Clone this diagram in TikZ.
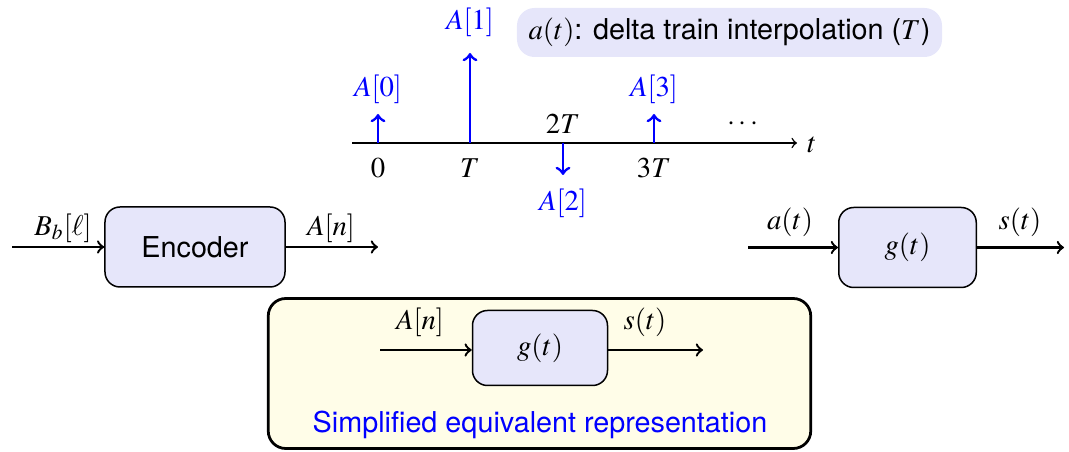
\documentclass[tikz,border=0pt]{standalone}
\usepackage{mathptmx}
\usepackage[no-math]{fontspec}
\setsansfont{TeX Gyre Heros}
\definecolor{lav}{RGB}{230,230,250}
\definecolor{cream}{RGB}{255,253,232}
\begin{document}
\fontsize{11.5}{14}\selectfont
\begin{tikzpicture}[x=0.4pt,y=-0.4pt,
  blk/.style={draw, rounded corners=6pt, fill=lav, minimum height=32pt, line width=0.6pt},
  sig/.style={->, line width=0.95pt},
  delta/.style={->, blue, line width=1.15pt},
  lab/.style={inner sep=1pt},
  blab/.style={inner sep=1pt, text=blue}
]
\useasboundingbox (0,0) rectangle (1069,452);

% ---- delta train ----
\coordinate (ax0) at (352,143);
\coordinate (ax1) at (797,143);
\draw[->, line width=0.6pt] (ax0) -- (ax1);
\node[lab] (tl) at (812,145) {$t$};

\coordinate (p0) at (378,143);
\coordinate (p1) at (470,143);
\coordinate (p2) at (563,143);
\coordinate (p3) at (654,143);
\coordinate (d0) at (378,114);
\coordinate (d1) at (470,53);
\coordinate (d2) at (563,175);
\coordinate (d3) at (654,114);
\draw[delta] (p0) -- (d0);
\draw[delta] (p1) -- (d1);
\draw[delta] (p2) -- (d2);
\draw[delta] (p3) -- (d3);
\node[blab] (l0) at (378,89) {$A[0]$};
\node[blab] (l1) at (470,22) {$A[1]$};
\node[blab] (l2) at (563,203) {$A[2]$};
\node[blab] (l3) at (654,89) {$A[3]$};
\node[lab] (t0) at (378,168) {$0$};
\node[lab] (t1) at (470,168) {$T$};
\node[lab] (t2) at (563,124) {$2T$};
\node[lab] (t3) at (654,168) {$3T$};
\node[lab] (dots) at (743,124) {$\cdots$};

\node[fill=lav, rounded corners=7pt, minimum width=170pt, minimum height=19.6pt, font=\sffamily] (leg) at (729.5,32.5) {$a(t)$: delta train interpolation ($T$)};

% ---- encoder ----
\node[blk, minimum width=72pt, font=\sffamily] (enc) at (195,247) {Encoder};
\coordinate (encin) at (12,247);
\coordinate (encout) at (378,247);
\draw[sig] (encin) -- (enc.west);
\draw[sig] (enc.east) -- (encout);
\node[lab] (bl) at (63,228) {$B_b[\ell]$};
\node[lab] (an) at (331,228) {$A[n]$};

% ---- g(t) right ----
\node[blk, minimum width=55pt] (g) at (907.5,247.5) {$g(t)$};
\coordinate (gin) at (748,247.5);
\coordinate (gout) at (1064,247.5);
\draw[sig] (gin) -- (g.west);
\draw[sig] (g.east) -- (gout);
\node[lab] (at) at (790,222) {$a(t)$};
\node[lab] (st) at (1020,222) {$s(t)$};

% ---- simplified ----
\node[draw, line width=1.1pt, rounded corners=7pt, fill=cream, minimum width=217pt, minimum height=60pt] (simp) at (539.5,373.5) {};
\node[blk, minimum width=54pt, minimum height=30pt] (g2) at (540,348) {$g(t)$};
\coordinate (g2in) at (380,350);
\coordinate (g2out) at (703,350);
\draw[sig] (g2in) -- (g2in -| g2.west);
\draw[sig] (g2out -| g2.east) -- (g2out);
\node[lab] (an2) at (420,322) {$A[n]$};
\node[lab] (st2) at (645,322) {$s(t)$};
\node[font=\sffamily, text=blue] (simptxt) at (540,425) {Simplified equivalent representation};
\end{tikzpicture}
\end{document}
